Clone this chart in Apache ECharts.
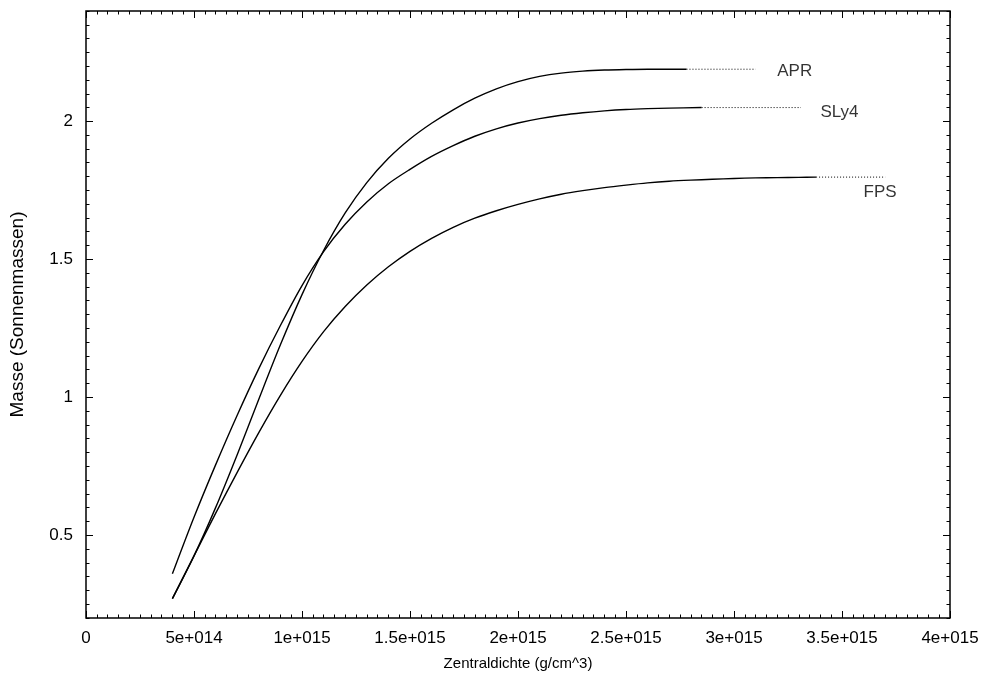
<!DOCTYPE html>
<html>
<head>
<meta charset="utf-8">
<script src="https://cdn.jsdelivr.net/npm/echarts@6/dist/echarts.min.js"></script>
<style>
  html, body { margin: 0; padding: 0; background: #fff; }
  #chart { width: 984px; height: 677px; }
</style>
</head>
<body>
<div id="chart"></div>
<script>
// Mass sequences: central density (g/cm^3) vs. mass (solar masses)
const aprDensity = [0.40e15, 0.50e15, 0.60e15, 0.70e15, 0.80e15, 0.90e15, 1.00e15, 1.10e15, 1.20e15, 1.30e15, 1.40e15, 1.50e15, 1.60e15, 1.70e15, 1.80e15, 1.90e15, 2.00e15, 2.10e15, 2.20e15, 2.30e15, 2.40e15, 2.50e15, 2.60e15, 2.70e15, 2.78e15];
const aprMass    = [0.270, 0.425, 0.600, 0.792, 0.993, 1.190, 1.372, 1.532, 1.668, 1.778, 1.866, 1.936, 1.993, 2.042, 2.084, 2.118, 2.144, 2.163, 2.175, 2.182, 2.186, 2.188, 2.189, 2.189, 2.189];

const sly4Density = [0.40e15, 0.50e15, 0.60e15, 0.70e15, 0.80e15, 0.90e15, 1.00e15, 1.10e15, 1.20e15, 1.30e15, 1.40e15, 1.50e15, 1.60e15, 1.70e15, 1.80e15, 1.90e15, 2.00e15, 2.10e15, 2.20e15, 2.30e15, 2.40e15, 2.50e15, 2.60e15, 2.70e15, 2.85e15];
const sly4Mass    = [0.360, 0.565, 0.755, 0.935, 1.104, 1.260, 1.405, 1.528, 1.627, 1.708, 1.774, 1.826, 1.873, 1.912, 1.946, 1.973, 1.994, 2.010, 2.022, 2.031, 2.038, 2.043, 2.046, 2.048, 2.050];

const fpsDensity = [0.40e15, 0.50e15, 0.60e15, 0.70e15, 0.80e15, 0.90e15, 1.00e15, 1.10e15, 1.20e15, 1.30e15, 1.40e15, 1.50e15, 1.60e15, 1.70e15, 1.80e15, 1.90e15, 2.00e15, 2.10e15, 2.20e15, 2.30e15, 2.40e15, 2.50e15, 2.60e15, 2.70e15, 2.80e15, 2.90e15, 3.00e15, 3.10e15, 3.20e15, 3.30e15, 3.38e15];
const fpsMass    = [0.270, 0.425, 0.579, 0.728, 0.872, 1.007, 1.130, 1.238, 1.329, 1.407, 1.473, 1.529, 1.576, 1.616, 1.649, 1.676, 1.699, 1.719, 1.736, 1.749, 1.760, 1.769, 1.777, 1.783, 1.787, 1.790, 1.793, 1.795, 1.796, 1.797, 1.798];

// Dotted leaders from the end of each sequence towards its label
const aprTailDensity  = [2.78e15, 3.10e15];
const aprTailMass     = [2.189, 2.189];
const sly4TailDensity = [2.85e15, 3.31e15];
const sly4TailMass    = [2.05, 2.05];
const fpsTailDensity  = [3.38e15, 3.70e15];
const fpsTailMass     = [1.798, 1.798];

// Curve labels, placed in data coordinates
const labelNames   = ['APR', 'SLy4', 'FPS'];
const labelDensity = [3.20e15, 3.40e15, 3.60e15];
const labelMass    = [2.183, 2.033, 1.743];

// Axis ticks
const xTickValues = [0, 0.5e15, 1e15, 1.5e15, 2e15, 2.5e15, 3e15, 3.5e15, 4e15];
const xTickLabels = ['0', '5e+014', '1e+015', '1.5e+015', '2e+015', '2.5e+015', '3e+015', '3.5e+015', '4e+015'];
const yTickValues = [0.5, 1, 1.5, 2];
const yTickLabels = ['0.5', '1', '1.5', '2'];

const zip = (xs, ys) => xs.map((x, i) => [x, ys[i]]);

const FONT = 'Liberation Sans, Arial, Helvetica, sans-serif';
const black = '#000';

function nearestLabel(values, labels, v) {
  let best = 0, d = Infinity;
  values.forEach((t, i) => { const e = Math.abs(t - v); if (e < d) { d = e; best = i; } });
  return labels[best];
}
const xLabel = v => nearestLabel(xTickValues, xTickLabels, v);
const yLabel = v => nearestLabel(yTickValues, yTickLabels, v);

const xCommon = {
  type: 'value', min: 0, max: 4e15, interval: 0.5e15,
  axisLine: { show: false },
  splitLine: { show: false },
  axisTick: { show: true, inside: true, length: 7, lineStyle: { color: black, width: 1 } },
  minorTick: { show: true, splitNumber: 10, length: 3.5, lineStyle: { color: black, width: 1 } }
};

const yMinor = {
  type: 'value', min: 0.2, max: 2.4, interval: 0.05,
  axisLine: { show: false },
  splitLine: { show: false },
  axisTick: { show: true, inside: true, length: 3.5, lineStyle: { color: black, width: 1 } }
};
const yMajor = {
  type: 'value', min: 0.2, max: 2.4,
  axisLine: { show: false },
  splitLine: { show: false },
  axisLabel: { show: false },
  axisTick: { show: true, inside: true, length: 7, customValues: yTickValues, lineStyle: { color: black, width: 1 } }
};

const curveStyle = { color: black, width: 1.4 };
const tailStyle = { color: black, width: 1, type: [1, 2] };

const chart = echarts.init(document.getElementById('chart'), null, { renderer: 'canvas' });
chart.setOption({
  animation: false,
  backgroundColor: '#fff',
  textStyle: { fontFamily: FONT },
  grid: {
    left: 86, right: 34, top: 11, bottom: 59,
    show: true, borderColor: black, borderWidth: 1.5, backgroundColor: 'transparent'
  },
  xAxis: [
    Object.assign({}, xCommon, {
      position: 'bottom',
      name: 'Zentraldichte (g/cm^3)',
      nameLocation: 'middle',
      nameGap: 38,
      nameTextStyle: { color: black, fontSize: 15, fontFamily: FONT },
      axisLabel: { show: true, color: black, fontSize: 17, fontFamily: FONT, margin: 12, formatter: xLabel }
    }),
    Object.assign({}, xCommon, { position: 'top', axisLabel: { show: false } })
  ],
  yAxis: [
    Object.assign({}, yMinor, {
      position: 'left',
      name: 'Masse (Sonnenmassen)',
      nameLocation: 'middle',
      nameGap: 59,
      nameTextStyle: { color: black, fontSize: 19, fontFamily: FONT },
      axisLabel: { show: true, color: black, fontSize: 17, fontFamily: FONT, margin: 13, customValues: yTickValues, formatter: yLabel }
    }),
    Object.assign({}, yMajor, { position: 'left' }),
    Object.assign({}, yMinor, { position: 'right', axisLabel: { show: false } }),
    Object.assign({}, yMajor, { position: 'right' })
  ],
  series: [
    { name: 'APR', type: 'line', data: zip(aprDensity, aprMass), showSymbol: false, smooth: 0.3, lineStyle: curveStyle },
    { name: 'SLy4', type: 'line', data: zip(sly4Density, sly4Mass), showSymbol: false, smooth: 0.3, lineStyle: curveStyle },
    { name: 'FPS', type: 'line', data: zip(fpsDensity, fpsMass), showSymbol: false, smooth: 0.3, lineStyle: curveStyle },
    { type: 'line', data: zip(aprTailDensity, aprTailMass), showSymbol: false, lineStyle: tailStyle },
    { type: 'line', data: zip(sly4TailDensity, sly4TailMass), showSymbol: false, lineStyle: tailStyle },
    { type: 'line', data: zip(fpsTailDensity, fpsTailMass), showSymbol: false, lineStyle: tailStyle },
    {
      type: 'scatter', symbolSize: 0,
      data: labelNames.map((n, i) => ({ name: n, value: [labelDensity[i], labelMass[i]] })),
      label: {
        show: true, position: 'inside', align: 'left', verticalAlign: 'middle',
        color: black, fontSize: 17, fontFamily: FONT,
        formatter: p => p.name
      }
    }
  ]
});
</script>
</body>
</html>
